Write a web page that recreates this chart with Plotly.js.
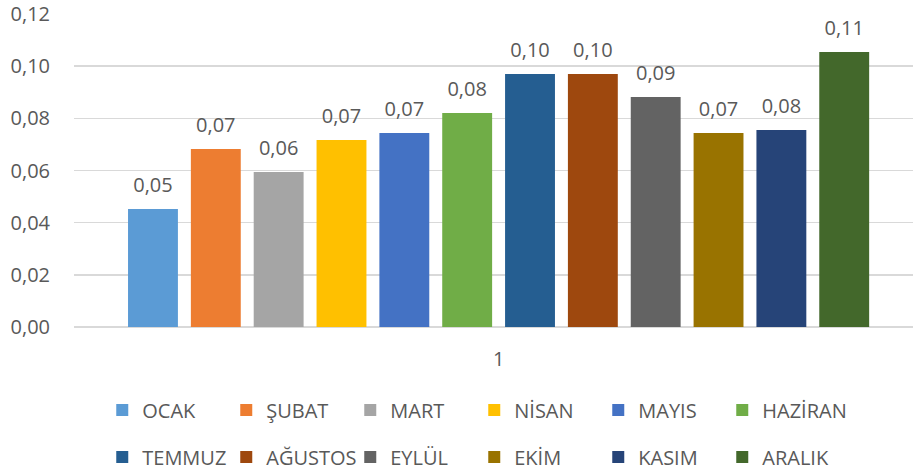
<!DOCTYPE html>
<html>
<head>
<meta charset="utf-8">
<script src="https://cdn.plot.ly/plotly-3.0.1.min.js"></script>
<style>html,body{margin:0;padding:0;background:#fff;}#chart{width:913px;height:471px;}</style>
</head>
<body>
<div id="chart"></div>
<script>
var category = ['1'];
var months = ['OCAK','ŞUBAT','MART','NİSAN','MAYIS','HAZİRAN','TEMMUZ','AĞUSTOS','EYLÜL','EKİM','KASIM','ARALIK'];
var values = [0.0452,0.0682,0.0594,0.0717,0.0744,0.0820,0.0970,0.0970,0.0882,0.0744,0.0755,0.1054];
var colors = ['#5B9BD5','#ED7D31','#A5A5A5','#FFC000','#4472C4','#70AD47','#255E91','#9E480E','#636363','#997300','#264478','#43682B'];
var yTicks = [0,0.02,0.04,0.06,0.08,0.10,0.12];

var FONT = '"Open Sans", "Liberation Sans", sans-serif';
var TXT = '#595959';
var traces = [];
months.forEach(function(m,i){
  traces.push({
    type:'bar', name:m, x:category, y:[values[i]],
    alignmentgroup:'bars', offsetgroup:'b'+i,
    marker:{color:colors[i]},
    legend: i < 6 ? 'legend' : 'legend2',
    hoverinfo:'skip'
  });
});
months.forEach(function(m,i){
  traces.push({
    type:'scatter', mode:'markers+text', x:category, y:[values[i]],
    alignmentgroup:'labels', offsetgroup:'s'+i,
    marker:{size:18,color:'rgba(0,0,0,0)'},
    text:[values[i].toFixed(2).replace('.',',')],
    textposition:'top center',
    textfont:{family:FONT,size:20,color:TXT},
    showlegend:false, hoverinfo:'skip', cliponaxis:false
  });
});

var legendBase = {
  orientation:'h', xref:'container', yref:'container',
  x:0.112, xanchor:'left', yanchor:'middle',
  entrywidth:79, entrywidthmode:'pixels',
  font:{family:FONT,size:20,color:TXT},
  bgcolor:'rgba(0,0,0,0)', traceorder:'normal'
};
var layout = {
  width:913, height:471,
  margin:{l:74,r:0,t:14,b:144},
  paper_bgcolor:'#fff', plot_bgcolor:'#fff',
  barmode:'group', bargap:0.112, bargroupgap:0.206,
  scattermode:'group', scattergap:0.112,
  separators:', ',
  font:{family:FONT,size:20,color:TXT},
  showlegend:true,
  xaxis:{type:'category', range:[-0.5,0.488], showgrid:false, zeroline:false, showline:false,
    ticks:'outside', ticklen:14, tickcolor:'rgba(0,0,0,0)',
    tickfont:{family:FONT,size:20,color:TXT}, fixedrange:true},
  yaxis:{range:[0,0.12], tickvals:yTicks, tickformat:'.2f', showgrid:true, gridcolor:'#D9D9D9', gridwidth:1.5,
    zeroline:true, zerolinecolor:'#D9D9D9', zerolinewidth:1.5, showline:false,
    ticks:'outside', ticklen:19, tickcolor:'rgba(0,0,0,0)',
    tickfont:{family:FONT,size:20,color:TXT}, fixedrange:true},
  legend:Object.assign({}, legendBase, {y:1-410/471}),
  legend2:Object.assign({}, legendBase, {y:1-457/471})
};
Plotly.newPlot('chart', traces, layout, {displayModeBar:false, staticPlot:true});
</script>
</body>
</html>
